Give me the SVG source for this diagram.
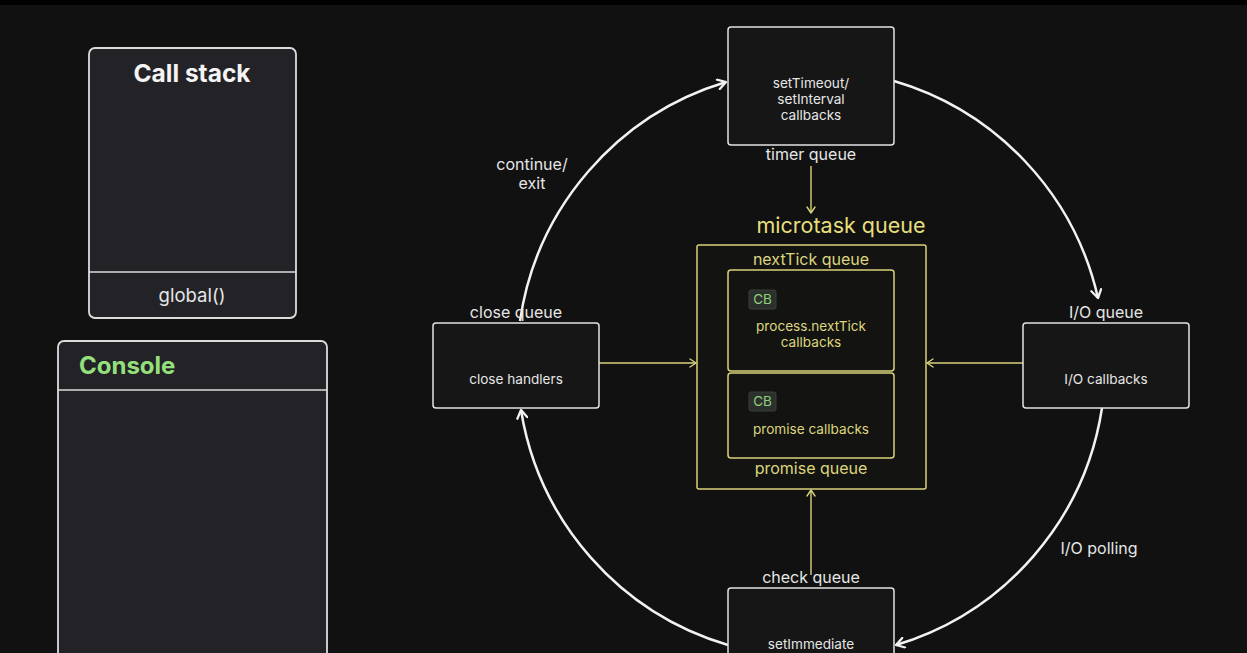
<svg xmlns="http://www.w3.org/2000/svg" width="1247" height="653" viewBox="0 0 1247 653">
<defs>
<style>
.t{font-family:Inter,"Liberation Sans",sans-serif;text-anchor:middle}
.w{fill:#e6e6e6}
.y{fill:#ddd67f}
.box{fill:#161616;stroke:#e2e2e2;stroke-width:1.5}
.pan{fill:#232327;stroke:#dcdcdc;stroke-width:1.8}
.ybox{fill:#131311;stroke:#d9d27a;stroke-width:1.5}
.arc{fill:none;stroke:#f2f2f2;stroke-width:2.5}
.yl{fill:none;stroke:#d9d27a;stroke-width:1.4}
.cb{fill:#2c302c;stroke:#3a3e3a;stroke-width:1}
</style>
<marker id="wa" viewBox="0 0 12 12" refX="10" refY="6" markerWidth="12" markerHeight="12" markerUnits="userSpaceOnUse" orient="auto">
<path d="M2,1 L10,6 L2,11" fill="none" stroke="#f2f2f2" stroke-width="2.3" stroke-linecap="round" stroke-linejoin="round"/>
</marker>
<marker id="ya" viewBox="0 0 10 10" refX="9" refY="5" markerWidth="10" markerHeight="10" markerUnits="userSpaceOnUse" orient="auto">
<path d="M3,1 L9,5 L3,9" fill="none" stroke="#d9d27a" stroke-width="1.4" stroke-linecap="round" stroke-linejoin="round"/>
</marker>
</defs>
<rect width="1247" height="653" fill="#111111"/>
<rect width="1247" height="5" fill="#000"/>

<g id="callstack">
<rect class="pan" x="89" y="48" width="207" height="270" rx="6"/>
<line x1="89" y1="272" x2="296" y2="272" stroke="#dcdcdc" stroke-width="1.5"/>
<text class="t" x="192" y="82" font-size="24.5" font-weight="700" fill="#f4f4f4">Call stack</text>
<text class="t w" x="192" y="302" font-size="18.5">global()</text>
</g>

<g id="console">
<rect class="pan" x="58" y="341" width="269" height="330" rx="6"/>
<line x1="58" y1="390" x2="327" y2="390" stroke="#dcdcdc" stroke-width="1.5"/>
<text x="79" y="374" font-family="Inter,'Liberation Sans',sans-serif" font-size="24" font-weight="700" fill="#95e07c">Console</text>
</g>

<g id="connectors">
<path class="arc" d="M520,321 A294,294 0 0 1 726,82" marker-end="url(#wa)"/>
<path class="arc" d="M894,81 A294,294 0 0 1 1098,298" marker-end="url(#wa)"/>
<path class="arc" d="M1102,408 A294,294 0 0 1 896,645" marker-end="url(#wa)"/>
<path class="arc" d="M728,645 A294,294 0 0 1 521,410" marker-end="url(#wa)"/>
<line class="yl" x1="811" y1="166" x2="811" y2="213" marker-end="url(#ya)"/>
<line class="yl" x1="599" y1="363" x2="696" y2="363" marker-end="url(#ya)"/>
<line class="yl" x1="1023" y1="363" x2="927" y2="363" marker-end="url(#ya)"/>
<line class="yl" x1="811" y1="575" x2="811" y2="490" marker-end="url(#ya)"/>
<text class="t w" x="532" y="170" font-size="16">continue/</text>
<text class="t w" x="532" y="189" font-size="16">exit</text>
<text class="t w" x="1099" y="554" font-size="16">I/O polling</text>
</g>

<g id="timer">
<rect class="box" x="728" y="27" width="166" height="118" rx="3"/>
<text class="t w" x="811" y="88" font-size="13.6">setTimeout/</text>
<text class="t w" x="811" y="104" font-size="13.6">setInterval</text>
<text class="t w" x="811" y="120" font-size="13.6">callbacks</text>
<text class="t w" x="811" y="160" font-size="16">timer queue</text>
</g>

<g id="microtask">
<text class="t" x="841" y="233" font-size="21.5" fill="#e6df7c">microtask queue</text>
<rect class="ybox" x="697" y="245" width="229" height="244" rx="2"/>
<text class="t y" x="811" y="265" font-size="16">nextTick queue</text>
<text class="t y" x="811" y="474" font-size="16">promise queue</text>
</g>

<g id="nexttick">
<rect class="ybox" x="728" y="270" width="166" height="101" rx="3"/>
<rect class="cb" x="749" y="290" width="27" height="19" rx="2"/>
<text class="t" x="762.5" y="304" font-size="13.5" fill="#8fcf7a">CB</text>
<text class="t y" x="811" y="331" font-size="13.6">process.nextTick</text>
<text class="t y" x="811" y="347" font-size="13.6">callbacks</text>
</g>

<g id="promise">
<rect class="ybox" x="728" y="373" width="166" height="85" rx="3"/>
<rect class="cb" x="749" y="392" width="27" height="19" rx="2"/>
<text class="t" x="762.5" y="406" font-size="13.5" fill="#8fcf7a">CB</text>
<text class="t y" x="811" y="434" font-size="13.6">promise callbacks</text>
</g>

<g id="close">
<rect class="box" x="433" y="323" width="166" height="85" rx="3"/>
<text class="t w" x="516" y="384" font-size="13.6">close handlers</text>
<text class="t w" x="516" y="318" font-size="16">close queue</text>
</g>

<g id="io">
<rect class="box" x="1023" y="323" width="166" height="85" rx="3"/>
<text class="t w" x="1106" y="384" font-size="13.6">I/O callbacks</text>
<text class="t w" x="1106" y="318" font-size="16">I/O queue</text>
</g>

<g id="check">
<rect class="box" x="728" y="588" width="166" height="90" rx="3"/>
<text class="t w" x="811" y="649" font-size="13.6">setImmediate</text>
<text class="t w" x="811" y="583" font-size="16">check queue</text>
</g>
</svg>
